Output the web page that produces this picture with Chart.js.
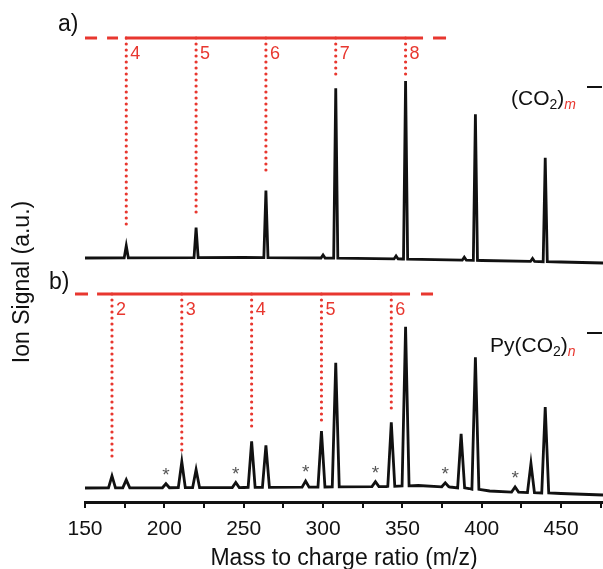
<!DOCTYPE html>
<html>
<head>
<meta charset="utf-8">
<script src="https://cdn.jsdelivr.net/npm/chart.js@4.4.1/dist/chart.umd.min.js"></script>
<style>
  html, body { margin: 0; padding: 0; background: #fff; }
  #wrap { width: 603px; height: 569px; }
</style>
</head>
<body>
<div id="wrap"><canvas id="chart" width="603" height="569"></canvas></div>
<script>
// x range (m/z) and tick step
const xMin = 150;
const xMax = 476.4;
const xStep = 25;

// panel a: (CO2)m- spectrum, levels in a.u. above the axis line
const peaksA_mz     = [176, 220, 264, 300, 308, 346, 352, 389, 396, 432, 440];
const peaksA_height = [12, 30, 67, 3, 170, 3, 178, 3, 146, 3, 104];
const baseA_mz      = [150, 250, 300, 350, 400, 450, 476.4];
const baseA_level   = [244, 244.5, 244, 243, 241.5, 240, 239];

// panel b: Py(CO2)n- spectrum
const peaksB_mz     = [167, 176, 201, 211, 220, 245, 255, 264, 289, 299, 308, 333, 343, 352, 377, 387, 396, 421, 431, 440];
const peaksB_height = [12, 8, 4, 26, 18, 5, 46, 42, 6, 56, 124, 5, 64, 159, 4, 54, 132, 5, 29, 86];
const baseB_mz      = [150, 250, 300, 340, 360, 380, 392, 405, 420, 450, 476.4];
const baseB_level   = [14, 14.5, 15, 15.5, 16.5, 15, 13.5, 11, 10, 8.5, 7];

// asterisk-marked peaks in panel b
const starsB_mz = [201, 245, 289, 333, 377, 421];

// cluster size guides
const guideA_level = 464;
const guideA_segments = [[150, 157.6], [163.9, 170.8], [175.2, 363], [369.3, 377.5]];
const dropA_mz    = [176, 220, 264, 308, 352];
const dropA_end   = [274, 289, 329, 422, 422];
const dropA_label = ['4', '5', '6', '7', '8'];

const guideB_level = 208;
const guideB_segments = [[143.7, 151.9], [157.6, 354.8], [361.7, 369.3]];
const dropB_mz    = [167, 211, 255, 299, 343];
const dropB_end   = [40, 47, 72, 80, 92];
const dropB_label = ['2', '3', '4', '5', '6'];

const RED = '#e8372f';
const FONT = '"Liberation Sans", Arial, Helvetica, sans-serif';

function baseAt(bx, by, m) {
    for (let i = 0; i < bx.length - 1; i++) {
        if (m >= bx[i] && m <= bx[i + 1]) {
            const t = (m - bx[i]) / (bx[i + 1] - bx[i]);
            return by[i] + t * (by[i + 1] - by[i]);
        }
    }
    return by[by.length - 1];
}

// baseline points plus a narrow triangle for each peak
function buildSpectrum(bx, by, px, ph, hw) {
    const pts = [];
    bx.forEach((m, i) => {
        if (!px.some(p => Math.abs(p - m) <= hw)) pts.push({x: m, y: by[i]});
    });
    px.forEach((p, i) => {
        const b = baseAt(bx, by, p);
        pts.push({x: p - hw, y: b}, {x: p, y: b + ph[i]}, {x: p + hw, y: b});
    });
    return pts.sort((a, b) => a.x - b.x);
}

function buildGuide(segments, level) {
    const pts = [];
    segments.forEach(s => {
        pts.push({x: s[0], y: level}, {x: s[1], y: level}, {x: s[1], y: null});
    });
    return pts;
}

function buildDrops(mz, ends, level) {
    const pts = [];
    mz.forEach((m, i) => {
        pts.push({x: m, y: level}, {x: m, y: ends[i]}, {x: m, y: null});
    });
    return pts;
}

const annotations = {
    id: 'annotations',
    afterDatasetsDraw(chart) {
        const {ctx, scales: {x, y}} = chart;
        ctx.save();

        // panel letters
        ctx.fillStyle = '#111';
        ctx.font = '23px ' + FONT;
        ctx.textBaseline = 'middle';
        ctx.textAlign = 'left';
        ctx.fillText('a)', 58, 25);
        ctx.fillText('b)', 49, 283);

        // cluster numbers
        ctx.fillStyle = RED;
        ctx.font = '18px ' + FONT;
        dropA_mz.forEach((m, i) => {
            ctx.fillText(dropA_label[i], x.getPixelForValue(m) + 4, y.getPixelForValue(guideA_level) + 16);
        });
        dropB_mz.forEach((m, i) => {
            ctx.fillText(dropB_label[i], x.getPixelForValue(m) + 4, y.getPixelForValue(guideB_level) + 16);
        });

        // asterisks
        ctx.fillStyle = '#555';
        ctx.font = '19px ' + FONT;
        ctx.textAlign = 'center';
        starsB_mz.forEach(m => {
            const i = peaksB_mz.indexOf(m);
            const top = baseAt(baseB_mz, baseB_level, m) + peaksB_height[i];
            ctx.fillText('*', x.getPixelForValue(m), y.getPixelForValue(top) - 8);
        });

        // species labels
        drawSpecies(ctx, 511, 105, '(CO', 'm', 87);
        drawSpecies(ctx, 490, 352, 'Py(CO', 'n', 333);

        ctx.restore();
    }
};

function drawSpecies(ctx, x0, base, head, idx, barY) {
    ctx.textAlign = 'left';
    ctx.textBaseline = 'alphabetic';
    ctx.fillStyle = '#111';
    ctx.font = '21px ' + FONT;
    ctx.fillText(head, x0, base);
    let cx = x0 + ctx.measureText(head).width;
    ctx.font = '14px ' + FONT;
    ctx.fillText('2', cx, base + 4);
    cx += ctx.measureText('2').width;
    ctx.font = '21px ' + FONT;
    ctx.fillText(')', cx, base);
    cx += ctx.measureText(')').width;
    ctx.fillStyle = RED;
    ctx.font = 'italic 14px ' + FONT;
    ctx.fillText(idx, cx, base + 4);
    ctx.strokeStyle = '#111';
    ctx.lineWidth = 2;
    ctx.beginPath();
    ctx.moveTo(587, barY);
    ctx.lineTo(602, barY);
    ctx.stroke();
}

new Chart(document.getElementById('chart'), {
    type: 'line',
    data: {
        datasets: [
            {
                data: buildSpectrum(baseA_mz, baseA_level, peaksA_mz, peaksA_height, 1.3),
                borderColor: '#111', borderWidth: 2.8, pointRadius: 0, clip: false
            },
            {
                data: buildSpectrum(baseB_mz, baseB_level, peaksB_mz, peaksB_height, 2.2),
                borderColor: '#111', borderWidth: 2.8, pointRadius: 0, clip: false
            },
            {
                data: buildGuide(guideA_segments, guideA_level),
                borderColor: RED, borderWidth: 3, pointRadius: 0, clip: false, spanGaps: false
            },
            {
                data: buildGuide(guideB_segments, guideB_level),
                borderColor: RED, borderWidth: 3, pointRadius: 0, clip: false, spanGaps: false
            },
            {
                data: buildDrops(dropA_mz, dropA_end, guideA_level),
                borderColor: RED, borderWidth: 3.2, borderDash: [0, 6], borderCapStyle: 'round',
                pointRadius: 0, clip: false, spanGaps: false
            },
            {
                data: buildDrops(dropB_mz, dropB_end, guideB_level),
                borderColor: RED, borderWidth: 3.2, borderDash: [0, 6], borderCapStyle: 'round',
                pointRadius: 0, clip: false, spanGaps: false
            }
        ]
    },
    options: {
        responsive: false,
        animation: false,
        layout: { padding: { top: 62, left: 0, right: 0, bottom: 0 } },
        plugins: { legend: { display: false }, tooltip: { enabled: false } },
        scales: {
            x: {
                type: 'linear',
                min: xMin,
                max: xMax,
                afterFit(scale) {
                    scale.height = 67;
                    scale.paddingLeft = 0;
                    scale.paddingRight = 0;
                },
                border: { display: true, color: '#111', width: 3 },
                grid: { display: true, drawOnChartArea: false, drawTicks: true, tickLength: 6, color: '#111', lineWidth: 2 },
                ticks: {
                    stepSize: xStep,
                    includeBounds: false,
                    autoSkip: false,
                    maxRotation: 0,
                    padding: 9,
                    color: '#111',
                    font: { family: FONT, size: 21 },
                    callback: v => (v % 50 === 0 ? String(v) : '')
                },
                title: {
                    display: true,
                    text: 'Mass to charge ratio (m/z)',
                    color: '#111',
                    font: { family: FONT, size: 23 },
                    padding: { top: 0, bottom: -3 }
                }
            },
            y: {
                type: 'linear',
                min: 0,
                max: 440,
                afterFit(scale) { scale.width = 85; },
                border: { display: false },
                grid: { display: false },
                ticks: { display: false },
                title: {
                    display: true,
                    text: 'Ion Signal (a.u.)',
                    color: '#111',
                    font: { family: FONT, size: 23 },
                    padding: { top: 9, bottom: 0 }
                }
            }
        }
    },
    plugins: [annotations]
});
</script>
</body>
</html>
